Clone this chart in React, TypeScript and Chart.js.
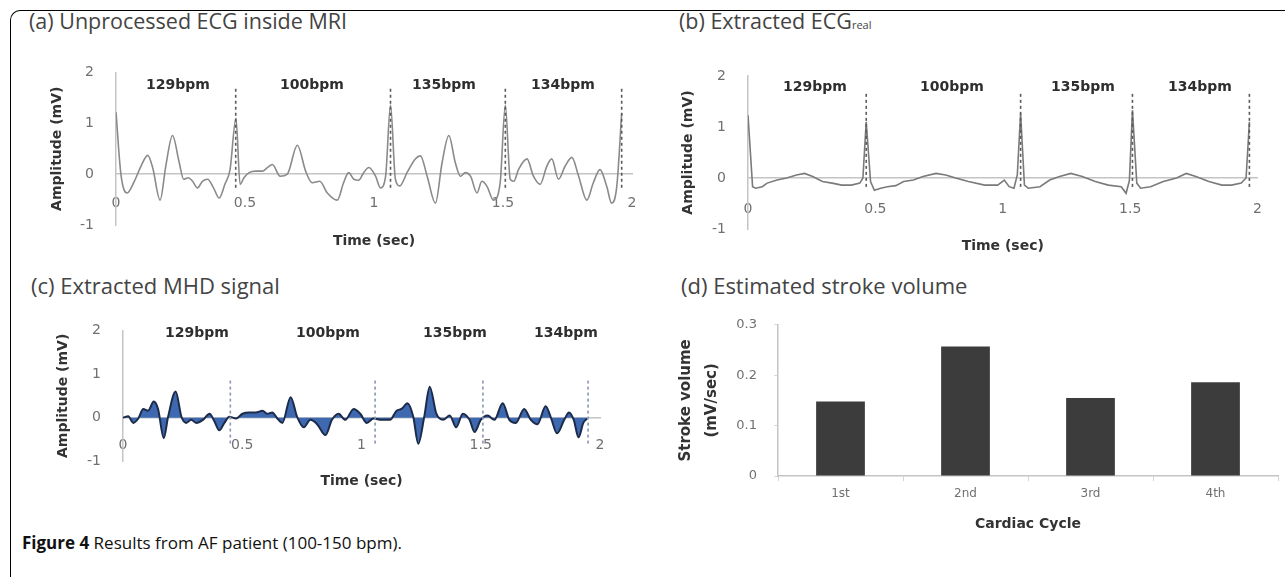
import React, { useEffect, useRef } from 'react';
import { Chart, registerables } from 'chart.js';

Chart.register(...registerables);

// ---------------- DATA ----------------
// (a) Unprocessed ECG inside MRI
const A_TIME = [0.000, 0.019, 0.043, 0.071, 0.097, 0.123, 0.142, 0.171, 0.193, 0.219, 0.245, 0.262, 0.280, 0.297, 0.316, 0.335, 0.355, 0.378, 0.400, 0.422, 0.442, 0.465, 0.481, 0.496, 0.516, 0.542, 0.567, 0.587, 0.606, 0.636, 0.664, 0.703, 0.735, 0.761, 0.790, 0.819, 0.858, 0.882, 0.902, 0.922, 0.940, 0.960, 0.980, 1.006, 1.025, 1.045, 1.064, 1.083, 1.100, 1.128, 1.160, 1.180, 1.206, 1.238, 1.264, 1.290, 1.315, 1.335, 1.354, 1.375, 1.399, 1.418, 1.438, 1.463, 1.489, 1.509, 1.528, 1.542, 1.560, 1.593, 1.618, 1.644, 1.670, 1.689, 1.715, 1.741, 1.767, 1.792, 1.825, 1.850, 1.876, 1.902, 1.921, 1.941, 1.960];
const A_VALUE = [1.22, 0.00, -0.37, -0.14, 0.16, 0.37, 0.13, -0.51, 0.16, 0.76, 0.23, -0.10, -0.07, -0.14, -0.27, -0.14, -0.10, -0.27, -0.47, -0.20, 0.09, 1.10, -0.20, -0.07, 0.03, 0.06, 0.06, 0.13, 0.19, -0.04, 0.00, 0.57, 0.06, -0.17, -0.14, -0.37, -0.51, -0.17, 0.03, -0.10, -0.12, 0.03, 0.13, -0.04, -0.27, -0.04, 1.36, -0.10, -0.23, 0.03, 0.30, 0.36, -0.04, -0.57, 0.23, 0.76, 0.23, -0.04, 0.03, -0.05, -0.37, -0.14, -0.24, -0.51, -0.17, 1.36, -0.10, -0.14, 0.09, 0.30, -0.04, -0.20, 0.16, 0.30, -0.10, 0.16, 0.33, -0.02, -0.51, -0.17, 0.09, -0.24, -0.57, -0.24, 1.20];
const A_PEAKS = [0.464, 1.064, 1.509, 1.96];

// (b) Extracted ECG real
const B_TIME = [0.000, 0.018, 0.030, 0.056, 0.075, 0.114, 0.152, 0.190, 0.222, 0.254, 0.292, 0.330, 0.368, 0.406, 0.439, 0.451, 0.464, 0.481, 0.496, 0.521, 0.547, 0.580, 0.611, 0.649, 0.687, 0.738, 0.776, 0.815, 0.865, 0.929, 0.980, 1.006, 1.025, 1.044, 1.057, 1.070, 1.085, 1.100, 1.146, 1.184, 1.223, 1.267, 1.312, 1.363, 1.414, 1.465, 1.484, 1.497, 1.509, 1.526, 1.541, 1.580, 1.630, 1.682, 1.720, 1.758, 1.809, 1.860, 1.898, 1.936, 1.955, 1.968];
const B_VALUE = [1.23, -0.17, -0.20, -0.17, -0.10, -0.04, 0.00, 0.06, 0.09, 0.03, -0.07, -0.10, -0.14, -0.14, -0.10, 0.00, 1.10, -0.07, -0.24, -0.20, -0.17, -0.15, -0.07, -0.04, 0.03, 0.09, 0.06, 0.00, -0.07, -0.14, -0.14, -0.04, -0.17, -0.20, 0.06, 1.27, -0.14, -0.20, -0.17, -0.04, 0.03, 0.09, 0.03, -0.07, -0.14, -0.17, -0.30, -0.05, 1.33, -0.10, -0.20, -0.17, -0.07, 0.00, 0.09, 0.03, -0.07, -0.14, -0.14, -0.10, 0.00, 1.10];
const B_PEAKS = [0.464, 1.07, 1.509, 1.968];

// (c) Extracted MHD signal
const C_TIME = [0.000, 0.022, 0.043, 0.064, 0.085, 0.105, 0.129, 0.147, 0.171, 0.189, 0.221, 0.245, 0.265, 0.286, 0.307, 0.335, 0.363, 0.383, 0.404, 0.425, 0.446, 0.474, 0.501, 0.529, 0.557, 0.585, 0.605, 0.626, 0.647, 0.668, 0.703, 0.730, 0.758, 0.786, 0.814, 0.849, 0.876, 0.904, 0.932, 0.967, 0.995, 1.022, 1.050, 1.085, 1.120, 1.147, 1.168, 1.193, 1.217, 1.238, 1.263, 1.286, 1.314, 1.342, 1.370, 1.397, 1.425, 1.453, 1.474, 1.500, 1.529, 1.557, 1.592, 1.620, 1.647, 1.682, 1.710, 1.738, 1.772, 1.793, 1.820, 1.850, 1.870, 1.890, 1.910, 1.930, 1.946];
const C_VALUE = [0.00, 0.03, -0.12, -0.02, 0.20, 0.16, 0.37, 0.20, -0.47, 0.02, 0.60, 0.02, -0.12, -0.05, -0.12, -0.05, 0.09, -0.08, -0.29, -0.12, 0.02, -0.02, 0.09, 0.12, 0.12, 0.16, 0.09, 0.12, -0.02, -0.12, 0.47, 0.02, -0.22, -0.05, -0.15, -0.40, -0.05, 0.09, -0.05, 0.20, 0.09, -0.12, -0.02, -0.05, -0.05, 0.16, 0.20, 0.33, 0.02, -0.60, 0.02, 0.71, 0.09, -0.05, 0.05, -0.22, 0.09, -0.05, -0.33, -0.05, 0.05, -0.05, 0.33, -0.05, -0.12, 0.20, -0.05, -0.15, 0.26, 0.02, -0.36, -0.05, 0.12, -0.05, -0.45, -0.12, -0.02];
const C_PEAKS = [0.45, 1.057, 1.509, 1.95];

// (d) Estimated stroke volume
const CYCLES = ['1st', '2nd', '3rd', '4th'];
const STROKE_VOLUME = [0.148, 0.257, 0.155, 0.186];

const BPM_LABELS = ['129bpm', '100bpm', '135bpm', '134bpm'];

// ---------------- STYLE ----------------
const AXIS_COLOR = '#c4c4c4';
const TICK_COLOR = '#707070';
const TITLE_COLOR = '#333333';
const TICK_FONT = { family: 'DejaVu Sans', size: 14 };
const AXIS_TITLE_FONT = { family: 'DejaVu Sans', size: 14, weight: 'bold' as const };

type Pad = { left: number; right: number; top: number; bottom: number };

function signalConfig(p: {
  t: number[]; v: number[]; peaks: number[];
  dashTop: number; dashBottom: number; dashColor: string;
  lineColor: string; lineWidth: number; monotone: boolean; fill?: string;
  pad: Pad; yWidth: number; yTitlePad: number; xTickPad: number;
}): any {
  const datasets: any[] = [{
    data: p.t.map((x, i) => ({ x, y: p.v[i] })),
    borderColor: p.lineColor,
    borderWidth: p.lineWidth,
    pointRadius: 0,
    cubicInterpolationMode: p.monotone ? 'monotone' : 'default',
    tension: 0,
    fill: p.fill ? 'origin' : false,
    backgroundColor: p.fill ?? 'rgba(0,0,0,0)',
    order: 2,
  }];
  p.peaks.forEach((pk) => {
    datasets.push({
      data: [{ x: pk, y: p.dashTop }, { x: pk, y: p.dashBottom }],
      borderColor: p.dashColor,
      borderWidth: 1.6,
      borderDash: [3, 3],
      pointRadius: 0,
      fill: false,
      order: 1,
    });
  });
  return {
    type: 'line',
    data: { datasets },
    options: {
      animation: false,
      responsive: false,
      devicePixelRatio: 1,
      layout: { padding: p.pad },
      plugins: { legend: { display: false }, tooltip: { enabled: false } },
      scales: {
        x: {
          type: 'linear', min: 0, max: 2, position: { y: 0 },
          grid: { display: true, color: 'rgba(0,0,0,0)', drawTicks: false },
          border: { display: true, color: AXIS_COLOR, width: 1.5 },
          ticks: {
            stepSize: 0.5, padding: p.xTickPad, color: TICK_COLOR, font: TICK_FONT, maxRotation: 0, autoSkip: false,
            callback: (v: number) => String(v),
          },
          title: { display: true, text: 'Time (sec)', color: TITLE_COLOR, font: AXIS_TITLE_FONT, padding: { top: 0, bottom: 0 } },
        },
        y: {
          type: 'linear', min: -1, max: 2, position: 'left',
          afterFit: (s: any) => { s.width = p.yWidth; },
          grid: { display: true, color: 'rgba(0,0,0,0)', drawTicks: false },
          border: { display: true, color: AXIS_COLOR, width: 1.5 },
          ticks: { stepSize: 1, padding: 22, color: TICK_COLOR, font: TICK_FONT },
          title: { display: true, text: 'Amplitude (mV)', color: TITLE_COLOR, font: AXIS_TITLE_FONT, padding: { top: p.yTitlePad, bottom: 0 } },
        },
      },
    },
  };
}

function barConfig(): any {
  return {
    type: 'bar',
    data: {
      labels: CYCLES,
      datasets: [{ data: STROKE_VOLUME, backgroundColor: '#3c3c3c', barPercentage: 0.39, categoryPercentage: 1 }],
    },
    options: {
      animation: false,
      responsive: false,
      devicePixelRatio: 1,
      layout: { padding: { left: 30, right: 7, top: 21.5, bottom: 12.6 } },
      plugins: { legend: { display: false }, tooltip: { enabled: false } },
      scales: {
        x: {
          afterFit: (s: any) => { s.height = 56.4; },
          grid: { display: true, drawOnChartArea: false, drawTicks: true, tickLength: 5, color: '#d4d4d4', offset: true },
          border: { display: true, color: AXIS_COLOR, width: 1.5 },
          ticks: { padding: 6, color: TICK_COLOR, font: { family: 'DejaVu Sans', size: 12 } },
          title: { display: true, text: 'Cardiac Cycle', color: TITLE_COLOR, font: AXIS_TITLE_FONT, padding: { top: 0, bottom: 0 } },
        },
        y: {
          min: 0, max: 0.3,
          afterFit: (s: any) => { s.width = 108; },
          grid: { display: true, drawOnChartArea: false, drawTicks: true, tickLength: 4, color: '#d8d8d8' },
          border: { display: true, color: AXIS_COLOR, width: 1.5 },
          ticks: { stepSize: 0.1, padding: 17, color: TICK_COLOR, font: { family: 'DejaVu Sans', size: 13 } },
          title: {
            display: true, text: ['Stroke volume', '(mV/sec)'], color: TITLE_COLOR,
            font: { family: 'DejaVu Sans', size: 15, weight: 'bold', lineHeight: 26 / 15 },
            padding: { top: 3.5, bottom: 0 },
          },
        },
      },
    },
  };
}

function ChartBox(props: { left: number; top: number; width: number; height: number; build: () => any }) {
  const ref = useRef<HTMLCanvasElement>(null);
  useEffect(() => {
    const chart = new Chart(ref.current as HTMLCanvasElement, props.build());
    return () => chart.destroy();
  }, []);
  return (
    <canvas
      ref={ref}
      width={props.width}
      height={props.height}
      style={{ position: 'absolute', left: props.left, top: props.top, width: props.width, height: props.height }}
    />
  );
}

const titleStyle = (left: number, top: number, size = 22): React.CSSProperties => ({
  position: 'absolute', left, top, fontFamily: '"Open Sans", sans-serif', fontSize: size, lineHeight: '22px',
  color: '#444444', whiteSpace: 'nowrap',
});

function Bpm(props: { x: number; y: number; text: string }) {
  return (
    <div style={{
      position: 'absolute', left: props.x, top: props.y, transform: 'translate(-50%, -50%)',
      fontFamily: '"DejaVu Sans", sans-serif', fontWeight: 'bold', fontSize: 14, lineHeight: '16px',
      color: '#2e2e2e', whiteSpace: 'nowrap',
    }}>{props.text}</div>
  );
}

const BPM_X_A = [178, 312, 444, 563];
const BPM_X_B = [815, 952, 1083, 1200];
const BPM_X_C = [197, 328, 455, 566];

export default function App() {
  return (
    <div style={{ position: 'absolute', left: 0, top: 0, width: 1285, height: 577, background: '#ffffff', overflow: 'hidden' }}>
      <div style={{
        position: 'absolute', left: 10, top: 10, width: 1300, height: 600,
        borderLeft: '1.5px solid #000', borderTop: '1.5px solid #000', borderTopLeftRadius: 10,
      }} />

      <div style={titleStyle(29, 10, 21.5)}>(a) Unprocessed ECG inside MRI</div>
      <div style={titleStyle(679, 10, 21.5)}>(b) Extracted ECG<span style={{ fontSize: 11 }}>real</span></div>
      <div style={titleStyle(31, 274)}>(c) Extracted MHD signal</div>
      <div style={titleStyle(681, 274)}>(d) Estimated stroke volume</div>

      <ChartBox left={0} top={40} width={660} height={230} build={() => signalConfig({
        t: A_TIME, v: A_VALUE, peaks: A_PEAKS, dashTop: 1.68, dashBottom: -0.3, dashColor: '#5a5a5a',
        lineColor: '#8a8a8a', lineWidth: 1.6, monotone: true,
        pad: { left: 40, right: 28, top: 32.5, bottom: 45 }, yWidth: 76, yTitlePad: 8.6, xTickPad: 21,
      })} />
      <ChartBox left={660} top={40} width={625} height={230} build={() => signalConfig({
        t: B_TIME, v: B_VALUE, peaks: B_PEAKS, dashTop: 1.65, dashBottom: -0.2, dashColor: '#5a5a5a',
        lineColor: '#7a7a7a', lineWidth: 1.6, monotone: false,
        pad: { left: 20, right: 15, top: 36, bottom: 41 }, yWidth: 68, yTitlePad: 0, xTickPad: 23,
      })} />
      <ChartBox left={0} top={300} width={660} height={200} build={() => signalConfig({
        t: C_TIME, v: C_VALUE, peaks: C_PEAKS, dashTop: 0.85, dashBottom: -0.6, dashColor: '#8796b4',
        lineColor: '#1d2b4a', lineWidth: 2, monotone: true, fill: '#3e69b0',
        pad: { left: 40, right: 60, top: 16.3, bottom: 38.7 }, yWidth: 83, yTitlePad: 14.6, xTickPad: 19,
      })} />
      <ChartBox left={640} top={300} width={645} height={245} build={barConfig} />

      {BPM_LABELS.map((b, i) => <Bpm key={'a' + i} x={BPM_X_A[i]} y={84} text={b} />)}
      {BPM_LABELS.map((b, i) => <Bpm key={'b' + i} x={BPM_X_B[i]} y={86} text={b} />)}
      {BPM_LABELS.map((b, i) => <Bpm key={'c' + i} x={BPM_X_C[i]} y={332} text={b} />)}

      <div style={{
        position: 'absolute', left: 22, top: 533, fontFamily: '"Open Sans", sans-serif', fontSize: 17,
        lineHeight: '20px', color: '#111', whiteSpace: 'nowrap',
      }}>
        <b>Figure 4</b> Results from AF patient (100-150 bpm).
      </div>
    </div>
  );
}
